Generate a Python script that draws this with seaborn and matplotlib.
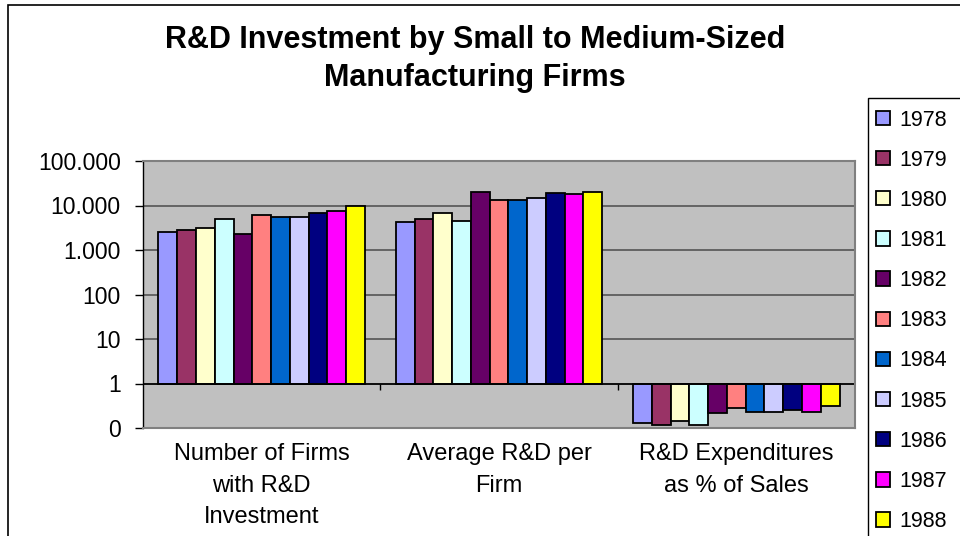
import numpy as np
import pandas as pd
import matplotlib
matplotlib.use("Agg")
import matplotlib.pyplot as plt
from matplotlib.patches import Rectangle
import seaborn as sns

# Daten
categories = ["Number of Firms\nwith R&D\nInvestment",
              "Average R&D per\nFirm",
              "R&D Expenditures\nas % of Sales"]
years = ["1978", "1979", "1980", "1981", "1982", "1983",
         "1984", "1985", "1986", "1987", "1988"]
n_firms = [2500, 2800, 3080, 5000, 2290, 6170, 5560, 5500, 6950, 7600, 10000]
avg_rd = [4200, 5000, 6840, 4580, 20400, 13450, 13400, 14900, 18650, 18000, 20600]
rd_pct_sales = [0.13, 0.117, 0.141, 0.116, 0.214, 0.283, 0.233, 0.233, 0.255, 0.233, 0.32]
year_colors = ["#9999FF", "#993366", "#FFFFCC", "#CCFFFF", "#660066", "#FF8080",
               "#0066CC", "#CCCCFF", "#000080", "#FF00FF", "#FFFF00"]
ytick_labels = ["0", "1", "10", "100", "1.000", "10.000", "100.000"]

rows = []
for cat, vals in zip(categories, [n_firms, avg_rd, rd_pct_sales]):
    for yr, v in zip(years, vals):
        rows.append({"category": cat, "year": yr, "value": v})
df = pd.DataFrame(rows)
# Excel-Log-Achse mit Kreuzung bei 1: Balken gehen von log10(1)=0 aus
df["log_value"] = np.log10(df["value"])

sns.set_style("white")
plt.rcParams["font.family"] = ["Liberation Sans", "DejaVu Sans"]
plt.rcParams["text.color"] = "black"
plt.rcParams["xtick.color"] = "black"
plt.rcParams["ytick.color"] = "black"

fig = plt.figure(figsize=(9.6, 5.36), dpi=100)
ax = fig.add_axes([143 / 960, 1 - 428 / 536, 712 / 960, 267 / 536])

sns.barplot(data=df, x="category", y="log_value", hue="year", hue_order=years,
            order=categories, palette=year_colors, width=0.87,
            edgecolor="black", linewidth=1.3, saturation=1, ax=ax)

handles, labels = ax.get_legend_handles_labels()
if ax.get_legend() is not None:
    ax.get_legend().remove()

ax.set_facecolor("#C0C0C0")
ax.set_ylim(-1, 5)
ax.set_xlim(-0.5, 2.5)
ax.set_yticks(range(-1, 6))
ax.set_yticklabels(ytick_labels, fontsize=16.5)
ax.grid(axis="y", color="#555555", linewidth=1.2)
ax.set_axisbelow(True)
ax.tick_params(axis="y", direction="out", length=6, width=1, pad=10, left=True)
ax.tick_params(axis="x", length=0, pad=11)
for lbl in ax.get_xticklabels():
    lbl.set_fontsize(17)
    lbl.set_linespacing(1.55)
ax.set_xlabel("")
ax.set_ylabel("")

for side in ["top", "right", "bottom"]:
    ax.spines[side].set_color("#808080")
    ax.spines[side].set_linewidth(1.5)
ax.spines["left"].set_color("black")
ax.spines["left"].set_linewidth(1)

# Kategorieachse bei y = 1
ax.axhline(0, color="black", linewidth=1.2, zorder=1.5)
ax.vlines([0.5, 1.5, 2.5], -0.14, 0, color="black", linewidth=1, zorder=1.5)

fig.text(475 / 960, 1 - 59 / 536,
         "R&D Investment by Small to Medium-Sized\nManufacturing Firms",
         ha="center", va="center", fontsize=22, fontweight="bold",
         linespacing=1.37)

leg = fig.legend(handles, labels, loc="upper left",
                 bbox_to_anchor=(868 / 960, 1 - 102 / 536), frameon=False,
                 fontsize=15.5, handlelength=0.65, handleheight=0.65,
                 handletextpad=0.45, labelspacing=0.89, borderpad=0.35,
                 borderaxespad=0)

# Rahmen der Legende (läuft über den Bildrand hinaus)
fig.patches.append(Rectangle((868 / 960, -0.1), 0.2, 1 - 98 / 536 + 0.1,
                             transform=fig.transFigure, fill=False,
                             edgecolor="black", linewidth=1))

# Rahmen des gesamten Diagramms
fig.patches.append(Rectangle((8 / 960, -0.1), 1.2, 1 - 5 / 536 + 0.1,
                             transform=fig.transFigure, fill=False,
                             edgecolor="black", linewidth=1.2))

fig.savefig("out.png", dpi=100)
